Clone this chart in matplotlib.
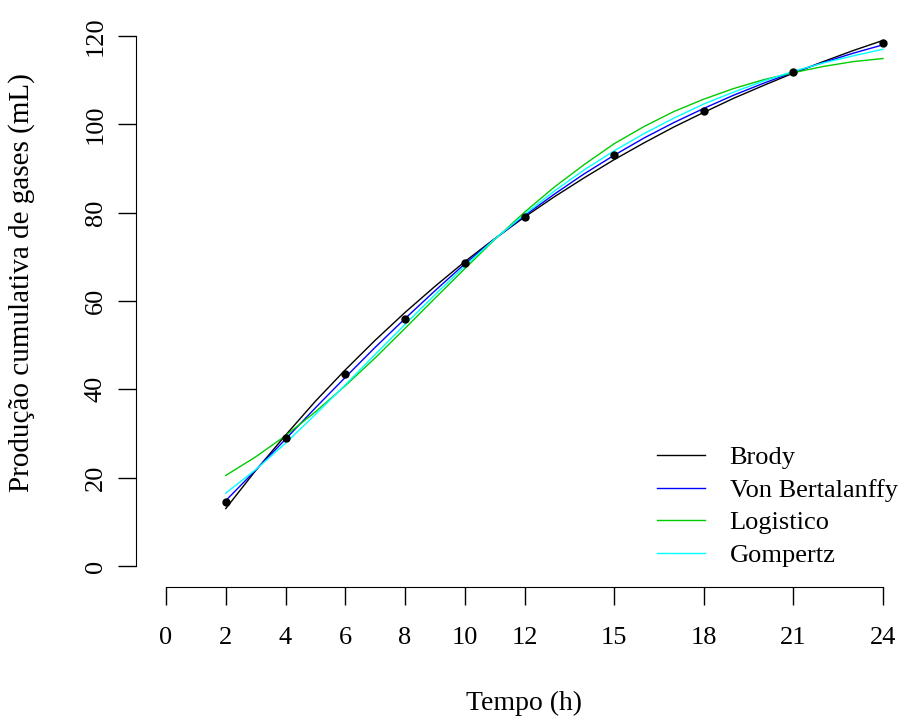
import numpy as np
import matplotlib
matplotlib.use("Agg")
import matplotlib.pyplot as plt

plt.rcParams['font.family'] = ['Liberation Serif', 'DejaVu Serif']

# observed data
tempo = [2, 4, 6, 8, 10, 12, 15, 18, 21, 24]
gases = [14.5, 29.0, 43.5, 56.0, 68.5, 79.0, 93.0, 103.0, 111.8, 118.5]

# fitted curves, read at each hour from 2 to 24
horas = list(range(2, 25))
brody = [13.0, 21.6, 29.6, 37.3, 44.4, 51.1, 57.4, 63.3, 68.9, 74.1, 79.0, 83.6,
         87.9, 92.0, 95.8, 99.4, 102.7, 105.9, 108.8, 111.6, 114.2, 116.7, 119.0]
bertalanffy = [14.8, 21.7, 28.7, 35.8, 42.7, 49.5, 56.0, 62.3, 68.4, 74.0, 79.3, 84.2,
               88.8, 93.0, 96.9, 100.4, 103.6, 106.6, 109.3, 111.8, 114.0, 116.1, 118.0]
logistico = [20.5, 24.7, 29.5, 34.9, 40.8, 47.1, 53.8, 60.6, 67.3, 73.9, 80.1, 85.8,
             90.9, 95.6, 99.5, 102.9, 105.7, 108.1, 110.1, 111.7, 113.1, 114.2, 114.9]
gompertz = [16.5, 21.8, 27.8, 34.3, 41.0, 47.9, 54.7, 61.4, 67.9, 74.0, 79.6, 84.9,
            89.7, 94.0, 97.9, 101.4, 104.6, 107.3, 109.8, 112.0, 113.9, 115.5, 117.0]

xticks = [0, 2, 4, 6, 8, 10, 12, 15, 18, 21, 24]
yticks = [0, 20, 40, 60, 80, 100, 120]

W, H = 901, 718
fig = plt.figure(figsize=(W/100, H/100), dpi=100)
# data box: x 0..24 -> px 166..883, y 0..120 -> px 566..36
ax = fig.add_axes([166/W, 1-566/H, (883-166)/W, (566-36)/H])
ax.set_xlim(0, 24)
ax.set_ylim(0, 120)

ax.plot(horas, brody, color='black', lw=1.0, label='Brody', clip_on=False)
ax.plot(horas, bertalanffy, color='blue', lw=1.0, label='Von Bertalanffy', clip_on=False)
ax.plot(horas, logistico, color='#00cc00', lw=1.0, label='Logistico', clip_on=False)
ax.plot(horas, gompertz, color='cyan', lw=1.0, label='Gompertz', clip_on=False)
ax.plot(tempo, gases, 'o', color='black', ms=5, clip_on=False)

for s in ['top', 'right']:
    ax.spines[s].set_visible(False)
ax.spines['bottom'].set_position(('outward', 21*0.72))
ax.spines['left'].set_position(('outward', 30*0.72))
ax.spines['bottom'].set_bounds(0, 24)
ax.spines['left'].set_bounds(0, 120)
ax.set_xticks(xticks)
ax.set_yticks(yticks)
ax.set_yticklabels([str(v) for v in yticks], rotation=90, va='center')
ax.tick_params(axis='both', direction='out', length=13, width=1, labelsize=19)
ax.tick_params(axis='x', pad=16)
ax.tick_params(axis='y', pad=8)

fig.text(524/W, 1-703/H, 'Tempo (h)', ha='center', va='center', fontsize=20)
fig.text(22/W, 1-283/H, 'Produção cumulativa de gases (mL)', ha='center', va='center',
         rotation=90, fontsize=21)

ax.legend(loc='upper left', bbox_to_anchor=(657/W, 1-446/H), bbox_transform=fig.transFigure,
          frameon=False, fontsize=19, handlelength=1.8, handletextpad=0.95,
          labelspacing=0.34, borderpad=0, borderaxespad=0)

fig.savefig('out.png', dpi=100)
